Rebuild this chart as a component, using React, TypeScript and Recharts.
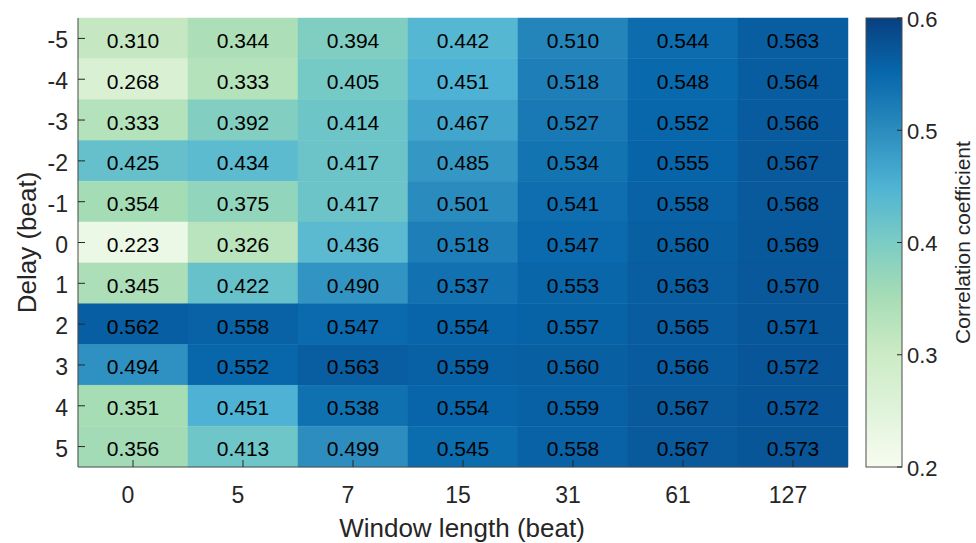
import { BarChart, Bar, Cell, XAxis, YAxis, LabelList } from 'recharts';

// window lengths (x categories) and delays (rows, top to bottom)
const WINDOWS = ['0', '5', '7', '15', '31', '61', '127'];
const DELAYS = [-5, -4, -3, -2, -1, 0, 1, 2, 3, 4, 5];

// correlation per delay row, one value per window length
const ROW_M5 = [0.310, 0.344, 0.394, 0.442, 0.510, 0.544, 0.563];
const ROW_M4 = [0.268, 0.333, 0.405, 0.451, 0.518, 0.548, 0.564];
const ROW_M3 = [0.333, 0.392, 0.414, 0.467, 0.527, 0.552, 0.566];
const ROW_M2 = [0.425, 0.434, 0.417, 0.485, 0.534, 0.555, 0.567];
const ROW_M1 = [0.354, 0.375, 0.417, 0.501, 0.541, 0.558, 0.568];
const ROW_0 = [0.223, 0.326, 0.436, 0.518, 0.547, 0.560, 0.569];
const ROW_1 = [0.345, 0.422, 0.490, 0.537, 0.553, 0.563, 0.570];
const ROW_2 = [0.562, 0.558, 0.547, 0.554, 0.557, 0.565, 0.571];
const ROW_3 = [0.494, 0.552, 0.563, 0.559, 0.560, 0.566, 0.572];
const ROW_4 = [0.351, 0.451, 0.538, 0.554, 0.559, 0.567, 0.572];
const ROW_5 = [0.356, 0.413, 0.499, 0.545, 0.558, 0.567, 0.573];
const CORR = [ROW_M5, ROW_M4, ROW_M3, ROW_M2, ROW_M1, ROW_0, ROW_1, ROW_2, ROW_3, ROW_4, ROW_5];

const CBAR_TICKS = [0.2, 0.3, 0.4, 0.5, 0.6];
const C_MIN = 0.2;
const C_MAX = 0.6;

// GnBu colormap
const STOPS = ['#f7fcf0', '#e0f3db', '#ccebc5', '#a8ddb5', '#7bccc4', '#4eb3d3', '#2b8cbe', '#0868ac', '#084081'];

const W = 976;
const H = 543;
const FONT = '"Liberation Sans", Arial, Helvetica, sans-serif';
const AXIS = '#262626';
const FRAME = '#4d4d4d';
const TICK_LEN = 7;

function hexToRgb(h: string) {
  const n = parseInt(h.slice(1), 16);
  return [(n >> 16) & 255, (n >> 8) & 255, n & 255];
}

function colorFor(v: number) {
  let t = (v - C_MIN) / (C_MAX - C_MIN);
  t = Math.max(0, Math.min(1, t)) * (STOPS.length - 1);
  const i = Math.min(Math.floor(t), STOPS.length - 2);
  const f = t - i;
  const a = hexToRgb(STOPS[i]);
  const b = hexToRgb(STOPS[i + 1]);
  const c = a.map((x, k) => Math.round(x + (b[k] - x) * f));
  return `rgb(${c[0]},${c[1]},${c[2]})`;
}

const data = WINDOWS.map((w, c) => {
  const row: Record<string, any> = { win: w };
  DELAYS.forEach((_, r) => {
    row['c' + r] = 1;
    row['v' + r] = CORR[r][c];
  });
  return row;
});

const rowTicks = DELAYS.map((_, i) => i + 0.5);

const BottomTick = (p: any) => (
  <g>
    <line x1={p.x} y1={p.y} x2={p.x} y2={p.y - TICK_LEN} stroke={AXIS} />
    <text x={p.x - 5} y={p.y + 28} textAnchor="middle" dominantBaseline="central" fontSize={23} fill={AXIS} fontFamily={FONT}>
      {p.payload.value}
    </text>
  </g>
);

const TopTick = (p: any) => (
  <line x1={p.x} y1={p.y} x2={p.x} y2={p.y + TICK_LEN} stroke={AXIS} />
);

const LeftTick = (p: any) => (
  <g>
    <line x1={p.x} y1={p.y} x2={p.x + TICK_LEN} y2={p.y} stroke={AXIS} />
    <text x={p.x - 10} y={p.y + 2} textAnchor="end" dominantBaseline="central" fontSize={23} fill={AXIS} fontFamily={FONT}>
      {DELAYS[Math.floor(p.payload.value)]}
    </text>
  </g>
);

const RightTick = (p: any) => (
  <line x1={p.x} y1={p.y} x2={p.x - TICK_LEN} y2={p.y} stroke={AXIS} />
);

const CellText = (p: any) => (
  <text
    x={p.x + p.width / 2}
    y={p.y + p.height / 2 + 2}
    textAnchor="middle"
    dominantBaseline="central"
    fontSize={21}
    fill="#000"
    fontFamily={FONT}
  >
    {Number(p.value).toFixed(3)}
  </text>
);

const XLabel = (p: any) => {
  const vb = p.viewBox;
  return (
    <text x={vb.x + vb.width / 2 - 1} y={vb.y + 61} textAnchor="middle" dominantBaseline="central" fontSize={26} fill={AXIS} fontFamily={FONT}>
      Window length (beat)
    </text>
  );
};

const YLabel = (p: any) => {
  const vb = p.viewBox;
  const cx = vb.x + 27;
  const cy = vb.y + vb.height / 2;
  return (
    <text x={cx} y={cy} transform={`rotate(-90, ${cx}, ${cy})`} textAnchor="middle" dominantBaseline="central" fontSize={26} fill={AXIS} fontFamily={FONT}>
      Delay (beat)
    </text>
  );
};

function ColorBar() {
  const x = 866;
  const y = 18;
  const w = 36;
  const h = 449;
  const yOf = (v: number) => y + h - ((v - C_MIN) / (C_MAX - C_MIN)) * h;
  return (
    <svg width={W} height={H} style={{ position: 'absolute', left: 0, top: 0, pointerEvents: 'none' }}>
      <defs>
        <linearGradient id="cbar" x1="0" y1="1" x2="0" y2="0">
          {STOPS.map((s, i) => (
            <stop key={i} offset={i / (STOPS.length - 1)} stopColor={s} />
          ))}
        </linearGradient>
      </defs>
      <rect x={x} y={y} width={w} height={h} fill="url(#cbar)" stroke={FRAME} strokeWidth={1} />
      {CBAR_TICKS.map((t) => (
        <g key={t}>
          <line x1={x + w} y1={yOf(t)} x2={x + w - 5} y2={yOf(t)} stroke={AXIS} />
          <text x={x + w + 5} y={yOf(t) + 1} dominantBaseline="central" fontSize={22} fill={AXIS} fontFamily={FONT}>
            {t.toFixed(1)}
          </text>
        </g>
      ))}
      <text
        x={962}
        y={y + h / 2}
        transform={`rotate(-90, 962, ${y + h / 2})`}
        textAnchor="middle"
        dominantBaseline="central"
        fontSize={21}
        fill={AXIS}
        fontFamily={FONT}
      >
        Correlation coefficient
      </text>
    </svg>
  );
}

export default function App() {
  return (
    <div style={{ position: 'absolute', left: 0, top: 0, width: W, height: H, background: '#fff', fontFamily: FONT }}>
      <BarChart
        width={W}
        height={H}
        data={data}
        margin={{ top: 18, right: 128, bottom: 0, left: 0 }}
        barCategoryGap={0}
        barGap={0}
      >
        {DELAYS.map((d, r) => (
          <Bar key={d} dataKey={'c' + r} stackId="cells" isAnimationActive={false}>
            {WINDOWS.map((_, c) => (
              <Cell key={c} fill={colorFor(CORR[r][c])} stroke={colorFor(CORR[r][c])} strokeWidth={0.5} />
            ))}
            <LabelList dataKey={'v' + r} content={<CellText />} />
          </Bar>
        ))}
        <XAxis
          dataKey="win"
          height={76}
          tickSize={0}
          tickMargin={0}
          tickLine={false}
          axisLine={{ stroke: FRAME }}
          tick={<BottomTick />}
          interval={0}
          label={<XLabel />}
        />
        <XAxis
          xAxisId="top"
          orientation="top"
          dataKey="win"
          height={0}
          tickSize={0}
          tickMargin={0}
          tickLine={false}
          axisLine={{ stroke: FRAME }}
          tick={<TopTick />}
          interval={0}
        />
        <YAxis
          type="number"
          domain={[0, DELAYS.length]}
          reversed
          ticks={rowTicks}
          interval={0}
          width={78}
          tickSize={0}
          tickMargin={0}
          tickLine={false}
          axisLine={{ stroke: FRAME }}
          tick={<LeftTick />}
          label={<YLabel />}
        />
        <YAxis
          yAxisId="right"
          orientation="right"
          type="number"
          domain={[0, DELAYS.length]}
          reversed
          ticks={rowTicks}
          interval={0}
          width={0}
          tickSize={0}
          tickMargin={0}
          tickLine={false}
          axisLine={{ stroke: FRAME }}
          tick={<RightTick />}
        />
      </BarChart>
      <ColorBar />
    </div>
  );
}
